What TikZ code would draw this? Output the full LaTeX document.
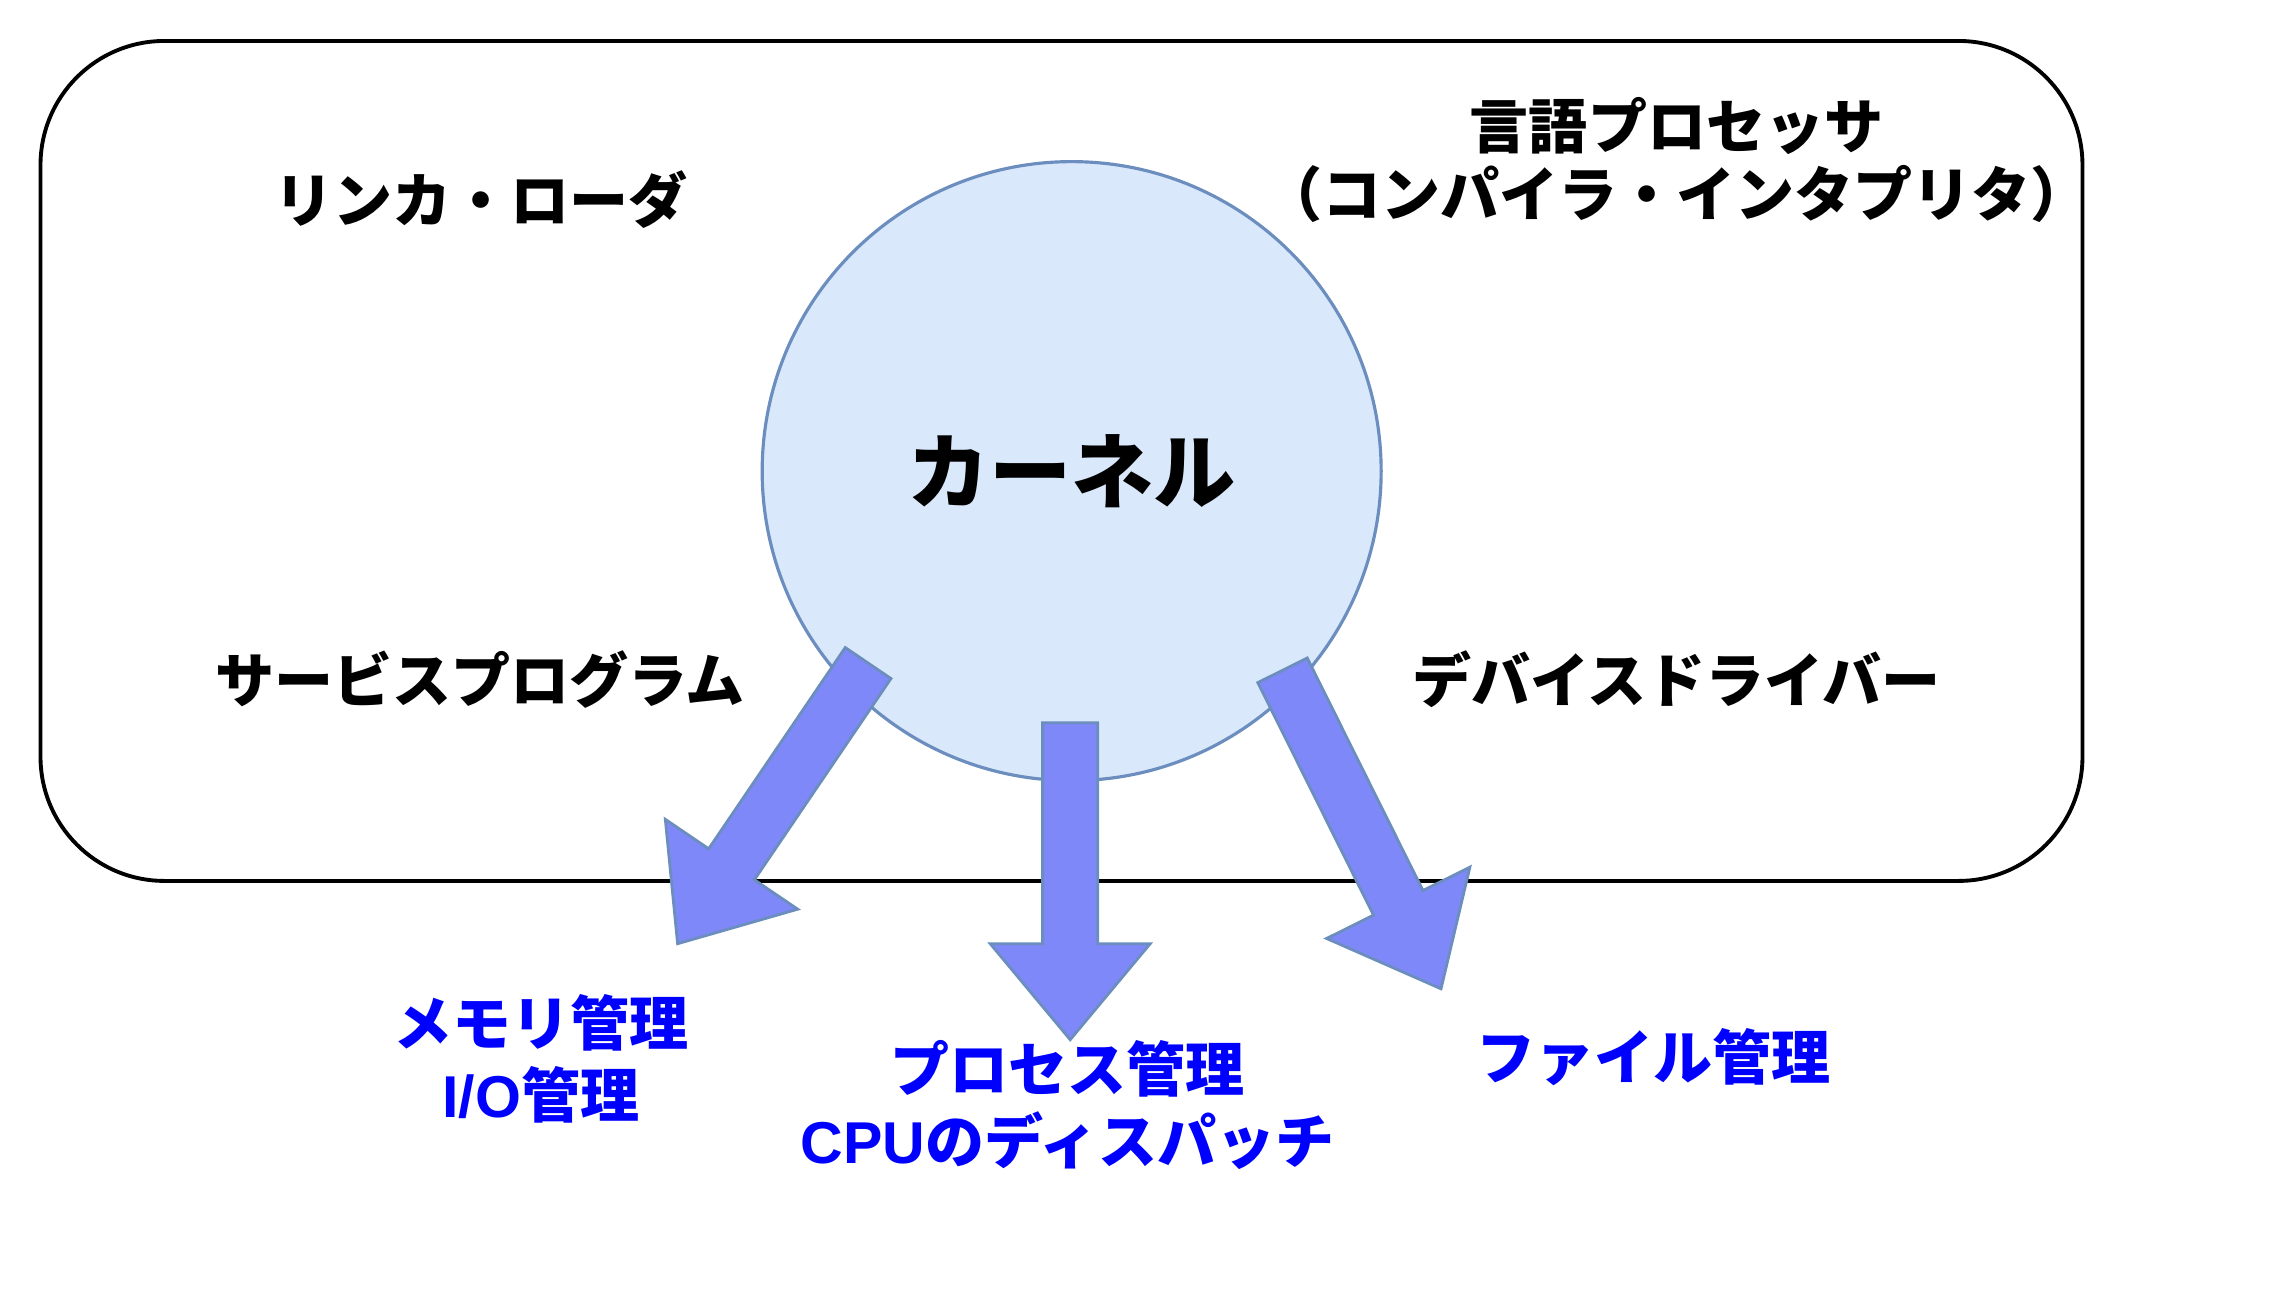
\documentclass[tikz,border=0pt]{standalone}
\usepackage{fontspec}
\setmainfont{Noto Sans CJK JP}
\newfontfamily\latinfont{Liberation Sans}
\usepackage{xcolor}
\usepackage{tikz}
\usetikzlibrary{calc}

\definecolor{kernelfill}{HTML}{DAE8FC}
\definecolor{kernelline}{HTML}{6C8EBF}
\definecolor{arrowfill}{HTML}{7F88F8}
\definecolor{labelblue}{HTML}{0000FF}

% block arrow from #1 (tail centre) to #2 (tip)
\newcommand{\fatarrow}[2]{%
  \coordinate (#2-back) at ($(#2)!0.96cm!(#1)$);
  \filldraw[fat] ($(#1)!0.276cm!90:(#2)$) -- ($(#2-back)!0.276cm!90:(#2)$)
    -- ($(#2-back)!0.80cm!90:(#2)$) -- (#2)
    -- ($(#2-back)!0.80cm!-90:(#2)$) -- ($(#2-back)!0.276cm!-90:(#2)$)
    -- ($(#1)!0.276cm!-90:(#2)$) -- cycle;}

\begin{document}
\begin{tikzpicture}[
    x=0.014541cm, y=-0.014541cm,
    frame/.style={draw, line width=1.1pt, rounded corners=1.24cm,
                  minimum width=20.42cm, minimum height=8.40cm},
    kernel/.style={circle, draw=kernelline, fill=kernelfill, line width=0.9pt,
                   minimum size=6.19cm, inner sep=0pt,
                   font=\bfseries\fontsize{23.4}{28}\selectfont},
    part/.style={align=center, font=\bfseries\fontsize{16.8}{19.6}\selectfont},
    job/.style={align=center, text=labelblue,
                font=\bfseries\fontsize{16.8}{20.4}\selectfont},
    fat/.style={draw=kernelline, fill=arrowfill, line width=0.8pt, line join=miter}]
  \useasboundingbox (0,0) rectangle (1568,889);
  \node[frame] (os) at (730,317) {};
  \node[kernel] (kern) at (737,324) {カーネル};
  \node[part] (linker) at (331,137) {リンカ・ローダ};
  \node[part] (lang) at (1153,110) {言語プロセッサ\\（コンパイラ・インタプリタ）};
  \node[part] (service) at (330,467) {サービスプログラム};
  \node[part] (driver) at (1153,467) {デバイスドライバー};
  \node[job] (mem) at (372,728) {メモリ管理\\{\latinfont I/O}管理};
  \node[job] (proc) at (734,760) {プロセス管理\\{\latinfont CPU}のディスパッチ};
  \node[job] (file) at (1137,727) {ファイル管理};
  \coordinate (memtail) at (597,456);
  \coordinate (memtip) at (466,649);
  \coordinate (proctail) at (736,497);
  \coordinate (proctip) at (736,715);
  \coordinate (filetail) at (882,461);
  \coordinate (filetip) at (991,680);
  \fatarrow{memtail}{memtip}
  \fatarrow{proctail}{proctip}
  \fatarrow{filetail}{filetip}
\end{tikzpicture}
\end{document}
